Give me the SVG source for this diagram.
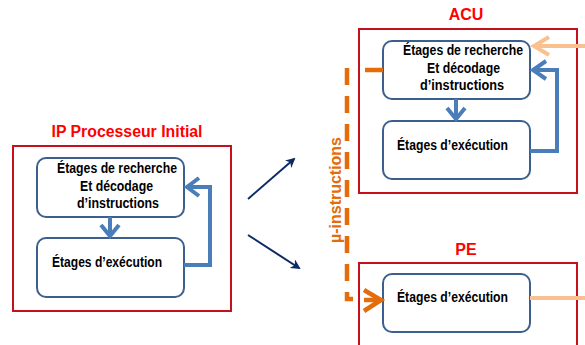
<svg xmlns="http://www.w3.org/2000/svg" width="585" height="345" viewBox="0 0 585 345">
<defs>
<style>
.frame{fill:none;stroke:#c8101a;stroke-width:2}
.box{fill:#ffffff;stroke:#3c5f8e;stroke-width:2}
.title{font-family:"Liberation Sans",Arial,sans-serif;font-weight:bold;font-size:16px;fill:#ff0000;text-anchor:middle}
.lbl{font-family:"Liberation Sans",Arial,sans-serif;font-weight:bold;font-size:14px;fill:#000000}
.blue{fill:none;stroke:#4a7ebb;stroke-width:4;stroke-linejoin:miter}
.peach{fill:none;stroke:#fac090;stroke-width:4}
.orange{fill:none;stroke:#e46c0a;stroke-width:4.5}
.navy{fill:none;stroke:#0b2a66;stroke-width:2}
</style>
<marker id="nav" viewBox="0 0 10 10" refX="8" refY="5" markerWidth="5" markerHeight="5" orient="auto" markerUnits="strokeWidth">
<path d="M0,0 L10,5 L0,10 L3,5 Z" fill="#0b2a66"/>
</marker>
</defs>
<rect width="585" height="345" fill="#ffffff"/>

<g id="ip-processeur">
<text class="title" x="127" y="137" textLength="151" lengthAdjust="spacingAndGlyphs">IP Processeur Initial</text>
<rect class="frame" x="13" y="146" width="218" height="165"/>
</g>
<g id="ip-fetch">
<rect class="box" x="37" y="158" width="147" height="59" rx="9"/>
<text class="lbl" x="57" y="173" textLength="120" lengthAdjust="spacingAndGlyphs">Étages de recherche</text>
<text class="lbl" x="80" y="191" textLength="73" lengthAdjust="spacingAndGlyphs">Et décodage</text>
<text class="lbl" x="77" y="208" textLength="82" lengthAdjust="spacingAndGlyphs">d’instructions</text>
</g>
<g id="ip-exec">
<rect class="box" x="37" y="238" width="147" height="59" rx="9"/>
<text class="lbl" x="52" y="267" textLength="110" lengthAdjust="spacingAndGlyphs">Étages d’exécution</text>
</g>

<g id="acu">
<text class="title" x="466" y="20">ACU</text>
<rect class="frame" x="359" y="29" width="218" height="164"/>
</g>
<g id="acu-fetch">
<rect class="box" x="383" y="41" width="147" height="58" rx="9"/>
<text class="lbl" x="403" y="55" textLength="120" lengthAdjust="spacingAndGlyphs">Étages de recherche</text>
<text class="lbl" x="427" y="73" textLength="73" lengthAdjust="spacingAndGlyphs">Et décodage</text>
<text class="lbl" x="420" y="90" textLength="84" lengthAdjust="spacingAndGlyphs">d’instructions</text>
</g>
<g id="acu-exec">
<rect class="box" x="383" y="121" width="147" height="58" rx="9"/>
<text class="lbl" x="397" y="150" textLength="111" lengthAdjust="spacingAndGlyphs">Étages d’exécution</text>
</g>

<g id="pe">
<text class="title" x="466" y="255">PE</text>
<rect class="frame" x="359" y="263" width="218" height="83"/>
</g>
<g id="pe-exec">
<rect class="box" x="383" y="274" width="147" height="58" rx="9"/>
<text class="lbl" x="397" y="302" textLength="111" lengthAdjust="spacingAndGlyphs">Étages d’exécution</text>
</g>

<g id="connectors">
<!-- IP internal -->
<path class="blue" d="M110,217 V236"/>
<path class="blue" d="M101,225 L110,236 L119,225"/>
<path class="blue" d="M184,265 H210 V187 H187"/>
<path class="blue" d="M199,178 L187,187 L199,196"/>
<!-- ACU internal -->
<path class="blue" d="M456,99 V119"/>
<path class="blue" d="M447,108 L456,119 L465,108"/>
<path class="blue" d="M530,151 H557 V70 H533"/>
<path class="blue" d="M546,61 L533,70 L546,79"/>
<!-- peach -->
<path class="peach" d="M585,46 H534"/>
<path class="peach" d="M549,37 L534,46 L549,55"/>
<path class="peach" d="M530,298 H585"/>
<!-- navy arrows -->
<path class="navy" d="M248,199 L294,159" marker-end="url(#nav)"/>
<path class="navy" d="M248,235 L299,268" marker-end="url(#nav)"/>
<!-- orange dashed micro-instructions -->
<path class="orange" d="M383,70 H365"/>
<path class="orange" d="M347,68 V299 H353" stroke-dasharray="17 11"/>
<path class="orange" d="M364,300 H381"/>
<path class="orange" d="M364,290 L381,300 L364,311"/>
<text x="341" y="190" transform="rotate(-90 341 190)" text-anchor="middle" font-family="'Liberation Sans',Arial,sans-serif" font-weight="bold" font-size="16" fill="#e46c0a" textLength="106" lengthAdjust="spacingAndGlyphs">µ-instructions</text>
</g>
</svg>
